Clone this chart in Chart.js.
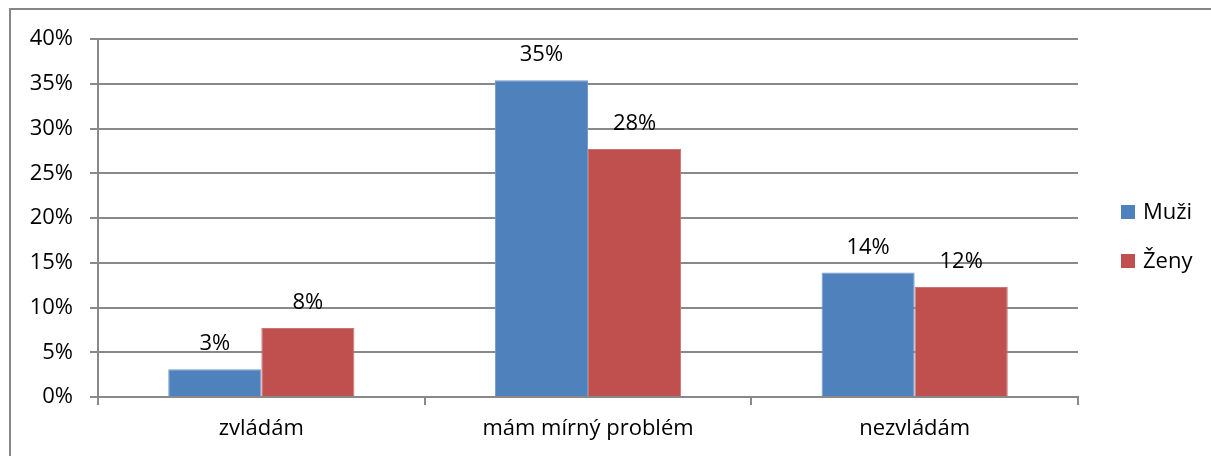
<!DOCTYPE html>
<html lang="cs">
<head>
<meta charset="utf-8">
<title>Muži a ženy</title>
<script src="https://cdn.jsdelivr.net/npm/chart.js@4/dist/chart.umd.min.js"></script>
<style>
  html, body { margin: 0; padding: 0; background: #fff; overflow: hidden; }
  #frame {
    position: absolute; left: 9px; top: 8px; width: 1400px; height: 600px;
    border-left: 2px solid #878787; border-top: 2px solid #878787;
  }
  #chart { position: absolute; left: 0; top: 0; }
</style>
</head>
<body>
<div id="frame"></div>
<canvas id="chart" width="1211" height="456"></canvas>
<script>
// Categories and series (percent of respondents)
const categories = ['zvládám', 'mám mírný problém', 'nezvládám'];
const seriesNames = ['Muži', 'Ženy'];
const muzi = [3.1, 35.4, 13.9];
const zeny = [7.7, 27.7, 12.3];
const yTicks = [0, 5, 10, 15, 20, 25, 30, 35, 40];

const FONT = { family: '"Open Sans", "Noto Sans", sans-serif', size: 22 };
const GRID = '#898989';
const FILLS = ['#4F81BD', '#C0504D'];
const EDGES = ['#7499C8', '#CC7371'];

// Value labels above every bar, rounded to whole percent
const barValueLabels = {
  id: 'barValueLabels',
  afterDatasetsDraw(chart) {
    const ctx = chart.ctx;
    ctx.save();
    ctx.font = `${FONT.size}px ${FONT.family}`;
    ctx.fillStyle = '#000';
    ctx.textAlign = 'center';
    ctx.textBaseline = 'alphabetic';
    chart.data.datasets.forEach((ds, di) => {
      chart.getDatasetMeta(di).data.forEach((bar, i) => {
        ctx.fillText(Math.round(ds.data[i]) + '%', bar.x, bar.y - 19);
      });
    });
    ctx.restore();
  }
};

// Legend to the right of the plot: colour square + series name
const sideLegend = {
  id: 'sideLegend',
  afterDraw(chart) {
    const ctx = chart.ctx;
    const area = chart.chartArea;
    const box = 14, gap = 8, step = 49;
    const x0 = area.right + 43;
    const y0 = 205;
    ctx.save();
    ctx.font = `${FONT.size}px ${FONT.family}`;
    ctx.textAlign = 'left';
    ctx.textBaseline = 'alphabetic';
    chart.data.datasets.forEach((ds, i) => {
      const y = y0 + i * step;
      ctx.fillStyle = ds.backgroundColor;
      ctx.fillRect(x0, y, box, box);
      ctx.fillStyle = '#000';
      ctx.fillText(ds.label, x0 + box + gap, y + box);
    });
    ctx.restore();
  }
};

new Chart(document.getElementById('chart'), {
  type: 'bar',
  data: {
    labels: categories,
    datasets: [
      { label: seriesNames[0], data: muzi, backgroundColor: FILLS[0], borderColor: EDGES[0], borderWidth: { top: 1, left: 1, right: 1, bottom: 0 } },
      { label: seriesNames[1], data: zeny, backgroundColor: FILLS[1], borderColor: EDGES[1], borderWidth: { top: 1, left: 1, right: 1, bottom: 0 } }
    ]
  },
  options: {
    responsive: false,
    animation: false,
    devicePixelRatio: 1,
    layout: { padding: { left: 0, top: 39, right: 133, bottom: 0 } },
    datasets: { bar: { categoryPercentage: 0.57, barPercentage: 1.0 } },
    plugins: {
      tooltip: { enabled: false },
      legend: { display: false }
    },
    scales: {
      x: {
        grid: { offset: true, drawOnChartArea: false, drawTicks: true, tickLength: 8, color: GRID, lineWidth: 2 },
        border: { display: true, color: GRID, width: 2 },
        ticks: { font: FONT, color: '#000', padding: 11, maxRotation: 0 },
        afterFit(scale) { scale.height = 59; }
      },
      y: {
        min: 0, max: 40,
        afterBuildTicks(scale) { scale.ticks = yTicks.map(v => ({ value: v })); },
        grid: { drawOnChartArea: true, drawTicks: true, tickLength: 8, color: GRID, lineWidth: 2 },
        border: { display: true, color: GRID, width: 2 },
        ticks: { font: FONT, color: '#000', padding: 17, callback: v => v + '%' },
        afterFit(scale) { scale.width = 98; }
      }
    }
  },
  plugins: [barValueLabels, sideLegend]
});
</script>
</body>
</html>
